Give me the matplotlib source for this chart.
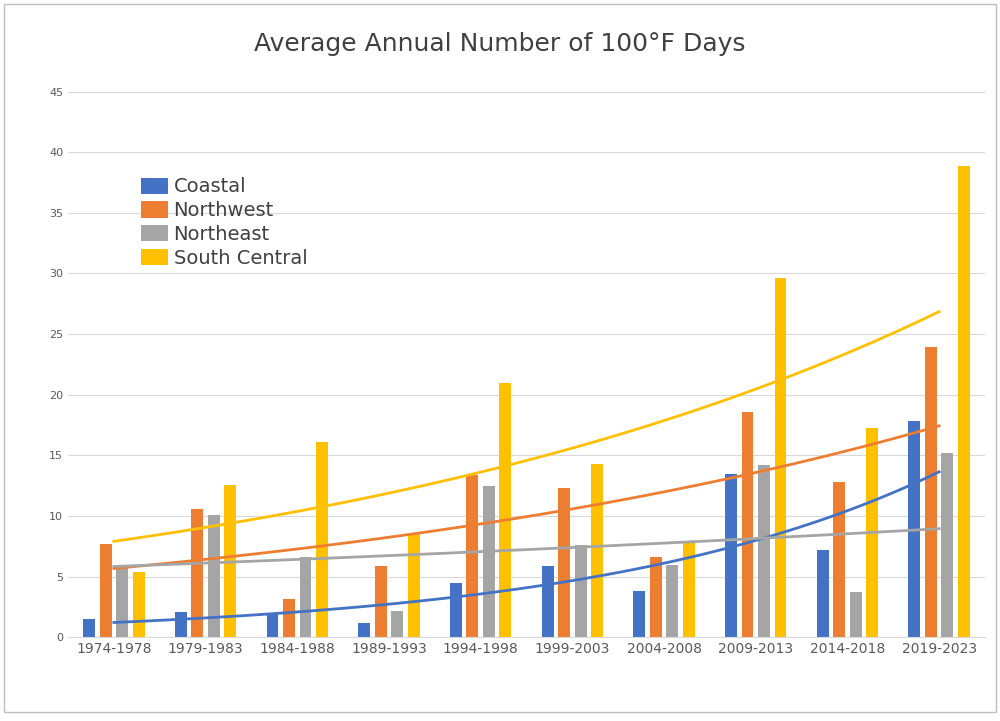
import matplotlib.pyplot as plt
import numpy as np
from matplotlib.patches import Rectangle

periods = ['1974-1978', '1979-1983', '1984-1988', '1989-1993', '1994-1998',
           '1999-2003', '2004-2008', '2009-2013', '2014-2018', '2019-2023']
coastal = [1.5, 2.1, 2.0, 1.2, 4.5, 5.9, 3.8, 13.5, 7.2, 17.8]
northwest = [7.7, 10.6, 3.2, 5.9, 13.4, 12.3, 6.6, 18.6, 12.8, 23.9]
northeast = [5.9, 10.1, 6.6, 2.2, 12.5, 7.6, 6.0, 14.2, 3.7, 15.2]
south_central = [5.4, 12.6, 16.1, 8.5, 21.0, 14.3, 7.8, 29.6, 17.3, 38.9]

series = [('Coastal', coastal, '#4472C4'),
          ('Northwest', northwest, '#ED7D31'),
          ('Northeast', northeast, '#A5A5A5'),
          ('South Central', south_central, '#FFC000')]

fig = plt.figure(figsize=(10, 7.21), dpi=100)
fig.patches.append(Rectangle((0.004, 0.012), 0.992, 0.982, transform=fig.transFigure,
                             fill=False, edgecolor='#BFBFBF', linewidth=1))
ax = fig.add_axes([0.068, 0.116, 0.917, 0.757])

x = np.arange(len(periods))
width = 0.13
step = 0.18
for i, (name, vals, color) in enumerate(series):
    ax.bar(x + (i - 1.5) * step, vals, width, color=color, label=name, zorder=2)

# exponential trendlines like Excel
xi = x + 1
for name, vals, color in series:
    b, a = np.polyfit(xi, np.log(vals), 1)
    xs = np.linspace(1, len(periods), 100)
    ax.plot(xs - 1, np.exp(a + b * xs), color=color, linewidth=2, zorder=3)

ax.set_ylim(0, 45)
ax.set_yticks(range(0, 46, 5))
ax.set_xlim(-0.5, len(periods) - 0.5)
ax.set_xticks(x, periods)
ax.grid(axis='y', color='#D9D9D9', linewidth=0.8, zorder=0)
for s in ['top', 'right', 'left']:
    ax.spines[s].set_visible(False)
ax.spines['bottom'].set_color('#D9D9D9')
ax.tick_params(length=0, colors='#595959')
ax.tick_params(axis='y', labelsize=8)
ax.tick_params(axis='x', labelsize=10)

fig.suptitle('Average Annual Number of 100°F Days', y=0.955, fontsize=18, color='#404040')
ax.legend(loc='upper left', bbox_to_anchor=(0.06, 0.875), frameon=False, fontsize=14,
          handlelength=1.4, handleheight=0.9, handletextpad=0.3, labelspacing=0.25,
          labelcolor='#404040')

plt.savefig('out.png', dpi=100)
